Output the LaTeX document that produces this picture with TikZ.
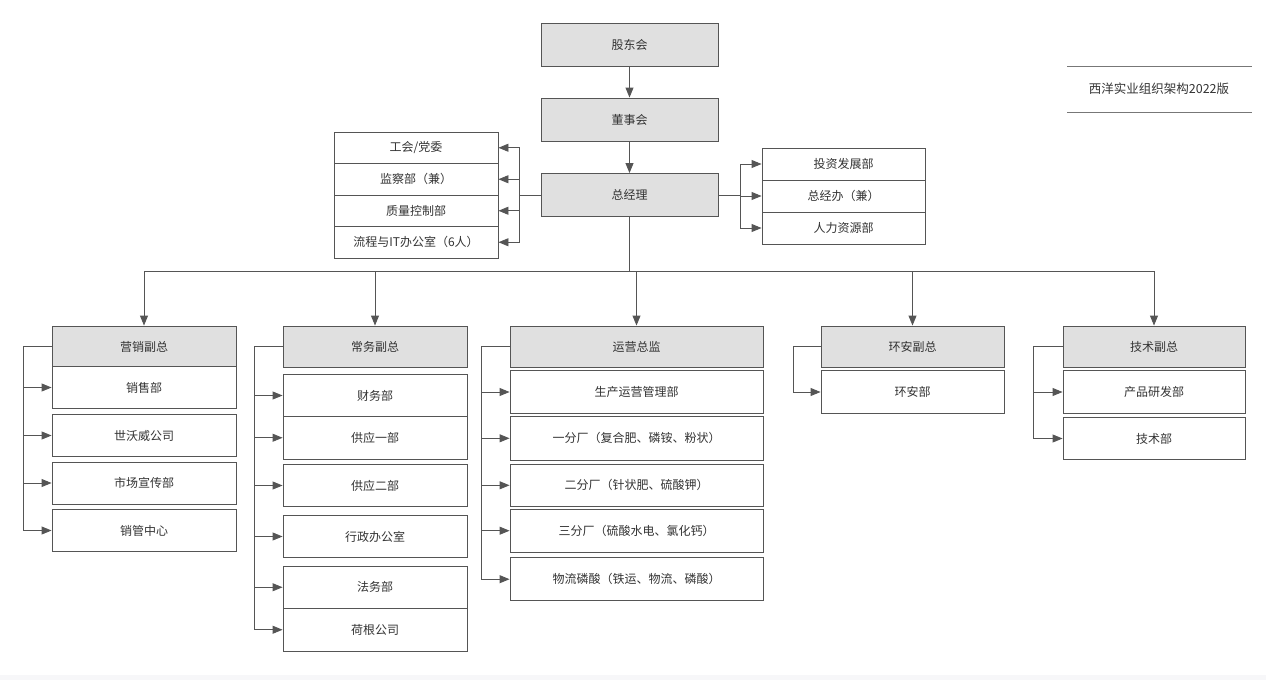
\documentclass[tikz,border=0pt]{standalone}
\usepackage{fontspec}
\setmainfont{Noto Sans CJK SC}
\usetikzlibrary{arrows.meta}
\definecolor{hdr}{HTML}{E0E0E0}
\definecolor{ln}{HTML}{555555}
\definecolor{tx}{HTML}{333333}
\definecolor{band}{HTML}{F7F7F9}
\tikzset{
  box/.style={draw=ln, line width=0.9pt, fill=white, text=tx, inner sep=0pt,
    font=\fontsize{12}{14}\selectfont},
  hbox/.style={box, fill=hdr},
  conn/.style={draw=ln, line width=0.9pt},
  arr/.style={conn, -{Triangle[length=10pt,width=8pt]}},
}
\newcommand{\bx}[7]{\node[#1, minimum width=#5pt, minimum height=#6pt] (#2) at (#3,#4) {#7};}
\begin{document}
\begin{tikzpicture}[x=1pt,y=-1pt]
\useasboundingbox (0,0) rectangle (1266,680);
\fill[band] (0,675) rectangle (1266,680);
% top chain
\bx{hbox}{gd}{629.5}{44.5}{177}{43}{股东会}
\bx{hbox}{dsh}{629.5}{119.5}{177}{43}{董事会}
\bx{hbox}{zjl}{629.5}{195}{177}{43}{总经理}
\draw[arr] (gd.south) -- (dsh.north);
\draw[arr] (dsh.south) -- (zjl.north);
% title
\node[text=tx, font=\fontsize{12.5}{14}\selectfont] (title) at (1159,89) {西洋实业组织架构2022版};
\coordinate (t1) at (1067,66); \coordinate (t2) at (1252,66);
\coordinate (t3) at (1067,112.5); \coordinate (t4) at (1252,112.5);
\draw[draw=ln!80, line width=1pt] (t1) -- (t2);
\draw[draw=ln!80, line width=1pt] (t3) -- (t4);
% left staff
\bx{box}{l1}{416}{147.75}{164}{31.5}{工会/党委}
\bx{box}{l2}{416}{179.25}{164}{31.5}{监察部（兼）}
\bx{box}{l3}{416}{210.75}{164}{31.5}{质量控制部}
\bx{box}{l4}{416}{242.25}{164}{31.5}{流程与IT办公室（6人）}
\coordinate (lb) at (519.5,195);
\draw[conn] (zjl.west) -- (lb);
\draw[conn] (lb |- l1.east) -- (lb |- l4.east);
\foreach \n in {l1,l2,l3,l4} \draw[arr] (lb |- \n.east) -- (\n.east);
% right staff
\bx{box}{r1}{843.5}{164}{163}{32}{投资发展部}
\bx{box}{r2}{843.5}{196}{163}{32}{总经办（兼）}
\bx{box}{r3}{843.5}{228}{163}{32}{人力资源部}
\coordinate (rb) at (740,195);
\draw[conn] (zjl.east) -- (rb);
\draw[conn] (rb |- r1.west) -- (rb |- r3.west);
\foreach \n in {r1,r2,r3} \draw[arr] (rb |- \n.west) -- (\n.west);
% headers
\bx{hbox}{h1}{144}{346.5}{184}{41}{营销副总}
\bx{hbox}{h2}{375}{346.5}{184}{41}{常务副总}
\bx{hbox}{h3}{636.5}{346.5}{253}{41}{运营总监}
\bx{hbox}{h4}{912.5}{346.5}{183}{41}{环安副总}
\bx{hbox}{h5}{1154}{346.5}{182}{41}{技术副总}
\coordinate (tb) at (629.5,271);
\draw[conn] (zjl.south) -- (tb);
\draw[conn] (tb -| h1.north) -- (tb -| h5.north);
\foreach \n in {h1,h2,h3,h4,h5} \draw[arr] (tb -| \n.north) -- (\n.north);
% column 1
\bx{box}{a1}{144}{387.5}{184}{42}{销售部}
\bx{box}{a2}{144}{435.5}{184}{42}{世沃威公司}
\bx{box}{a3}{144}{483}{184}{42}{市场宣传部}
\bx{box}{a4}{144}{530.5}{184}{42}{销管中心}
\coordinate (ab) at (23,346.5);
\draw[conn] (h1.west) -- (ab) -- (ab |- a4.west);
\foreach \n in {a1,a2,a3,a4} \draw[arr] (ab |- \n.west) -- (\n.west);
% column 2
\bx{box}{b1}{375}{395.5}{184}{42.5}{财务部}
\bx{box}{b2}{375}{437.75}{184}{42.5}{供应一部}
\bx{box}{b3}{375}{485.5}{184}{42.5}{供应二部}
\bx{box}{b4}{375}{536.5}{184}{42.5}{行政办公室}
\bx{box}{b5}{375}{587.25}{184}{42.5}{法务部}
\bx{box}{b6}{375}{629.75}{184}{42.5}{荷根公司}
\coordinate (bb) at (254,346.5);
\draw[conn] (h2.west) -- (bb) -- (bb |- b6.west);
\foreach \n in {b1,b2,b3,b4,b5,b6} \draw[arr] (bb |- \n.west) -- (\n.west);
% column 3
\bx{box}{c1}{636.5}{392}{253}{42.6}{生产运营管理部}
\bx{box}{c2}{636.5}{438.3}{253}{43.3}{一分厂（复合肥、磷铵、粉状）}
\bx{box}{c3}{636.5}{485.3}{253}{42.6}{二分厂（针状肥、硫酸钾）}
\bx{box}{c4}{636.5}{530.7}{253}{42.6}{三分厂（硫酸水电、氯化钙）}
\bx{box}{c5}{636.5}{579.2}{253}{43}{物流磷酸（铁运、物流、磷酸）}
\coordinate (cb) at (481,346.5);
\draw[conn] (h3.west) -- (cb) -- (cb |- c5.west);
\foreach \n in {c1,c2,c3,c4,c5} \draw[arr] (cb |- \n.west) -- (\n.west);
% column 4
\bx{box}{d1}{912.5}{392}{183}{42.6}{环安部}
\coordinate (db) at (793,346.5);
\draw[conn] (h4.west) -- (db) -- (db |- d1.west);
\draw[arr] (db |- d1.west) -- (d1.west);
% column 5
\bx{box}{e1}{1154}{392}{182}{42.6}{产品研发部}
\bx{box}{e2}{1154}{438.5}{182}{42.6}{技术部}
\coordinate (eb) at (1033,346.5);
\draw[conn] (h5.west) -- (eb) -- (eb |- e2.west);
\foreach \n in {e1,e2} \draw[arr] (eb |- \n.west) -- (\n.west);
\end{tikzpicture}
\end{document}
